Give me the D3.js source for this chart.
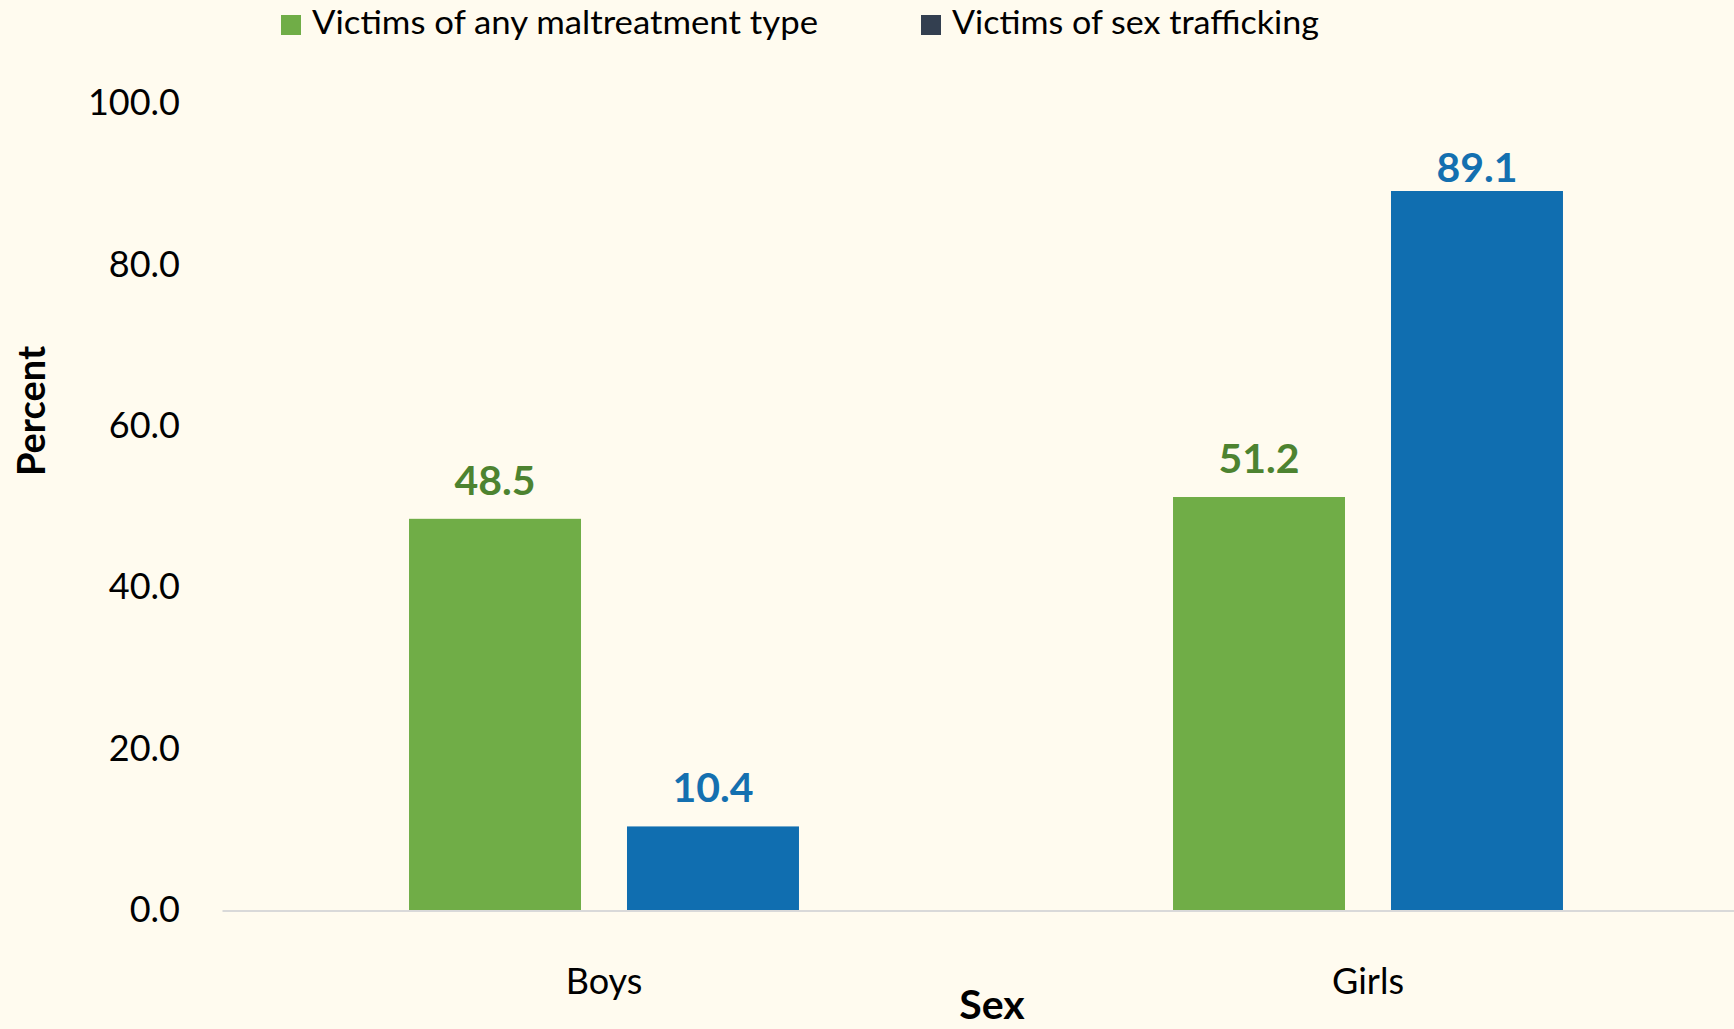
<!DOCTYPE html>
<html>
<head>
<meta charset="utf-8">
<script src="https://cdn.jsdelivr.net/npm/d3@7"></script>
<style>
  html, body { margin: 0; padding: 0; background: #fffbef; }
  svg { display: block; }
  text { font-family: Lato, "Open Sans", sans-serif; }
</style>
</head>
<body>
<svg id="chart" width="1734" height="1029"></svg>
<script>
const categories = ["Boys", "Girls"];
const seriesNames = ["Victims of any maltreatment type", "Victims of sex trafficking"];
const maltreatmentValues = [48.5, 51.2];
const traffickingValues = [10.4, 89.1];
const yTicks = [0, 20, 40, 60, 80, 100];
const barColors = ["#70ad47", "#106eb0"];
const labelColors = ["#4d8330", "#1470b0"];
const legendColors = ["#70ad47", "#333f50"];

const W = 1734, H = 1029;
const svg = d3.select("#chart");
svg.append("rect").attr("width", W).attr("height", H).attr("fill", "#fffbef");

const plotLeft = 222, plotRight = 1750, plotTop = 103, plotBottom = 910.4;

const x0 = d3.scaleBand().domain(categories).range([plotLeft, plotRight]).paddingInner(0).paddingOuter(0);
const x1 = d3.scaleBand().domain(seriesNames).range([0, x0.bandwidth()]).paddingInner(0.211).paddingOuter(0.858);
const y = d3.scaleLinear().domain([0, 100]).range([plotBottom, plotTop]);

const data = categories.map((c, i) => ({
  cat: c,
  vals: [
    { s: seriesNames[0], v: maltreatmentValues[i], k: 0 },
    { s: seriesNames[1], v: traffickingValues[i], k: 1 }
  ]
}));

// Y axis (labels only)
const yAxis = d3.axisLeft(y).tickValues(yTicks).tickFormat(d3.format(".1f")).tickSize(0).tickPadding(42);
const gy = svg.append("g").attr("transform", `translate(${plotLeft},0)`).call(yAxis);
gy.select(".domain").remove();
gy.selectAll("text").attr("font-size", 36).attr("fill", "#000").style("font-family", "Lato, sans-serif");

// Bars
const groups = svg.append("g").selectAll("g").data(data).join("g")
  .attr("transform", d => `translate(${x0(d.cat)},0)`);
groups.selectAll("rect").data(d => d.vals).join("rect")
  .attr("x", d => x1(d.s))
  .attr("y", d => y(d.v))
  .attr("width", x1.bandwidth())
  .attr("height", d => y(0) - y(d.v))
  .attr("fill", d => barColors[d.k]);

// Data labels
const labelMinBaseline = 182;
groups.selectAll("text.lbl").data(d => d.vals).join("text")
  .attr("class", "lbl")
  .attr("x", d => x1(d.s) + x1.bandwidth() / 2)
  .attr("y", d => Math.max(y(d.v) - 24, labelMinBaseline))
  .attr("text-anchor", "middle")
  .attr("font-size", 41)
  .attr("font-weight", "bold")
  .attr("fill", d => labelColors[d.k])
  .text(d => d.v.toFixed(1));

// X axis
const xAxis = d3.axisBottom(x0).tickSize(0).tickPadding(58);
const gx = svg.append("g").attr("transform", `translate(0,${plotBottom})`).call(xAxis);
gx.select(".domain").attr("stroke", "#d9d9d9").attr("stroke-width", 2);
gx.selectAll("text").attr("font-size", 36).attr("fill", "#000").style("font-family", "Lato, sans-serif");

// Axis titles
svg.append("text")
  .attr("transform", "translate(45,411) rotate(-90)")
  .attr("text-anchor", "middle")
  .attr("font-size", 38)
  .attr("font-weight", "bold")
  .attr("fill", "#000")
  .text("Percent");
svg.append("text")
  .attr("x", 992).attr("y", 1019)
  .attr("text-anchor", "middle")
  .attr("font-size", 41)
  .attr("font-weight", "bold")
  .attr("fill", "#000")
  .text("Sex");

// Legend
const legendX = [281, 921];
const legendTextWidth = [506, 367];
const leg = svg.append("g").selectAll("g").data(seriesNames).join("g")
  .attr("transform", (d, i) => `translate(${legendX[i]},15)`);
leg.append("rect").attr("width", 20).attr("height", 20).attr("fill", (d, i) => legendColors[i]);
leg.append("text").attr("x", 31).attr("y", 19).attr("font-size", 33).attr("fill", "#000")
  .attr("textLength", (d, i) => legendTextWidth[i]).attr("lengthAdjust", "spacingAndGlyphs")
  .text(d => d);
</script>
</body>
</html>
